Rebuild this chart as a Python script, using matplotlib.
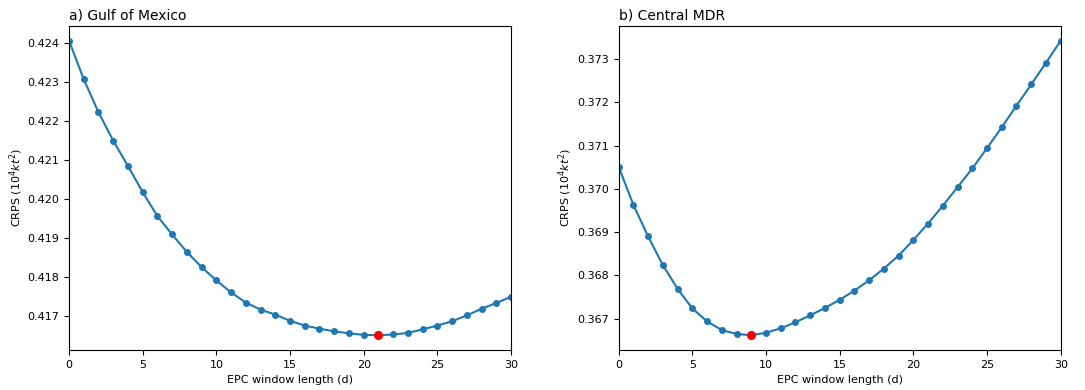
from matplotlib import pyplot as plt
import numpy as np

window = np.arange(0, 31)

gulf_crps = [0.42407, 0.42308, 0.42223, 0.42150, 0.42085, 0.42018, 0.41956,
             0.41909, 0.41864, 0.41825, 0.41791, 0.41760, 0.41734, 0.41716,
             0.41703, 0.41687, 0.41675, 0.41667, 0.41660, 0.41655, 0.41651,
             0.41650, 0.41652, 0.41656, 0.41665, 0.41675, 0.41686, 0.41701,
             0.41718, 0.41733, 0.41749]

mdr_crps = [0.37051, 0.36963, 0.36890, 0.36824, 0.36769, 0.36724, 0.36694,
            0.36674, 0.36665, 0.36662, 0.36668, 0.36678, 0.36692, 0.36708,
            0.36725, 0.36744, 0.36765, 0.36789, 0.36816, 0.36846, 0.36882,
            0.36920, 0.36961, 0.37004, 0.37047, 0.37094, 0.37142, 0.37192,
            0.37241, 0.37291, 0.37342]

titles = ['a) Gulf of Mexico', 'b) Central MDR']


def crps_panel(ax, x, y, title):
    ax.plot(x, y, marker='o', markersize=4, linewidth=1.5, color='tab:blue')
    i_min = int(np.argmin(y))
    ax.plot(x[i_min], y[i_min], marker='o', markersize=5.5, color='red', linestyle='None')
    ax.set_xlim(0, 30)
    ax.set_xlabel('EPC window length (d)', fontsize=8)
    ax.set_ylabel('CRPS ($10^4kt^2$)', fontsize=8, labelpad=2)
    ax.set_title(title, loc='left', fontsize=10, pad=5)
    ax.tick_params(labelsize=8)


fig = plt.figure(figsize=(10.85, 3.9), dpi=100)
ax1 = fig.add_axes([0.0636, 0.1026, 0.4074, 0.8308])
ax2 = fig.add_axes([0.5702, 0.1026, 0.4074, 0.8308])

crps_panel(ax1, window, np.array(gulf_crps), titles[0])
crps_panel(ax2, window, np.array(mdr_crps), titles[1])

fig.savefig('out.png', dpi=100)
